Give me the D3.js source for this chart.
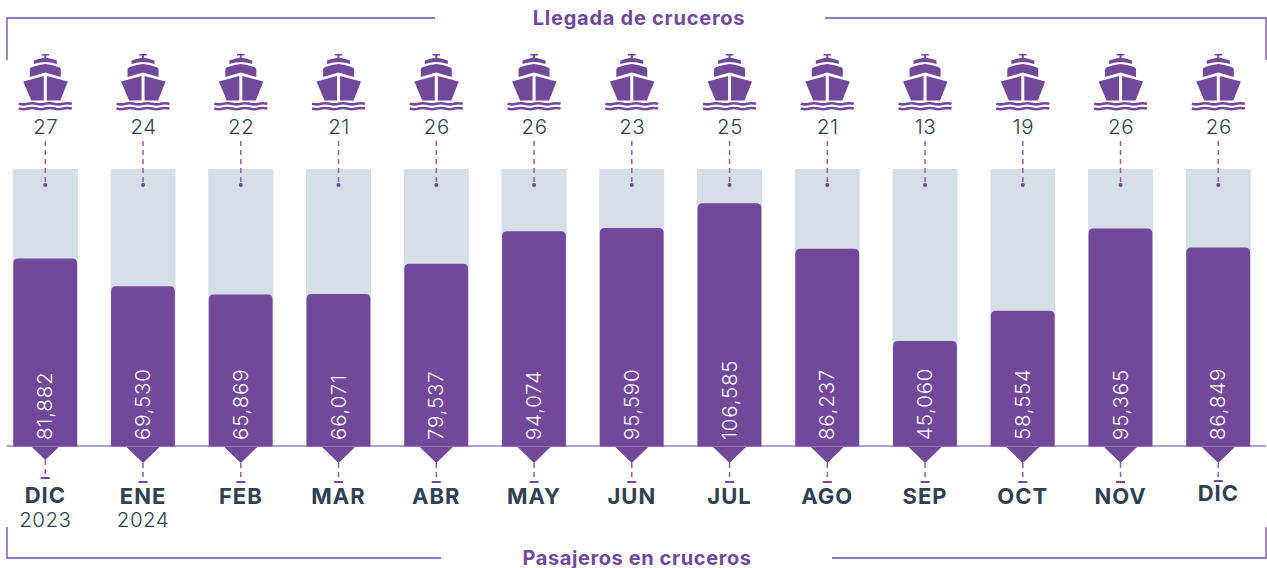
<!DOCTYPE html>
<html>
<head>
<meta charset="utf-8">
<script src="https://cdn.jsdelivr.net/npm/d3@7"></script>
<style>
	html, body { margin: 0; padding: 0; background: #fff; }
	svg { display: block; }
	text { font-family: Inter, "Open Sans", sans-serif; }
</style>
</head>
<body>
<div id="chart"></div>
<script>
var months = ["DIC", "ENE", "FEB", "MAR", "ABR", "MAY", "JUN", "JUL", "AGO", "SEP", "OCT", "NOV", "DIC"];
var years = ["2023", "2024", "", "", "", "", "", "", "", "", "", "", ""];
var cruises = [27, 24, 22, 21, 26, 26, 23, 25, 21, 13, 19, 26, 26];
var passengers = [81882, 69530, 65869, 66071, 79537, 94074, 95590, 106585, 86237, 45060, 58554, 95365, 86849];
var trackMax = 121875;

var purple = "#72489b";
var track = "#d6dee8";
var ink = "#2f4052";

var width = 1267, height = 568;
var baseY = 446, topY = 169;

var svg = d3.select("#chart").append("svg")
	.attr("width", width)
	.attr("height", height);

var xScale = d3.scaleBand()
	.domain(d3.range(months.length))
	.range([12.8, 1250.8])
	.paddingInner(0.335);
// el cero de la escala queda un poco arriba de la linea base, asi ajusta mejor a la imagen
var yScale = d3.scaleLinear().domain([0, trackMax]).range([442, topY]);

function cx(i) {
	return xScale(i) + xScale.bandwidth() / 2;
}

// marco superior e inferior
function frame(d) {
	svg.append("path")
		.attr("d", d)
		.attr("fill", "none")
		.attr("stroke", purple)
		.attr("stroke-width", 1.3);
}
frame("M7,60V18H435");
frame("M825,18H1266V60");
frame("M7,527V558H441");
frame("M832,558H1266V527");

svg.append("text")
	.attr("x", 639).attr("y", 24.5)
	.attr("text-anchor", "middle")
	.attr("font-size", 20).attr("font-weight", 700)
	.attr("letter-spacing", 0.75)
	.attr("fill", purple)
	.text("Llegada de cruceros");
svg.append("text")
	.attr("x", 637).attr("y", 564.5)
	.attr("text-anchor", "middle")
	.attr("font-size", 20).attr("font-weight", 700)
	.attr("letter-spacing", 0.6)
	.attr("fill", purple)
	.text("Pasajeros en cruceros");

// fondo gris
svg.append("g").selectAll("rect")
	.data(months)
	.enter()
	.append("rect")
	.attr("x", function(d, i) { return xScale(i); })
	.attr("y", topY)
	.attr("width", xScale.bandwidth())
	.attr("height", baseY - topY)
	.attr("fill", track);

// linea base
svg.append("line")
	.attr("x1", 7).attr("x2", 1266)
	.attr("y1", baseY).attr("y2", baseY)
	.attr("stroke", "#9a7fba")
	.attr("stroke-width", 1.5);

// barras
svg.append("g").selectAll("path")
	.data(passengers)
	.enter()
	.append("path")
	.attr("fill", purple)
	.attr("d", function(d, i) {
		var x0 = xScale(i) + 0.5, x1 = xScale(i) + xScale.bandwidth() - 0.7, y = yScale(d), r = 5;
		return "M" + x0 + "," + (baseY + 0.5) + "V" + (y + r) + "Q" + x0 + "," + y + " " + (x0 + r) + "," + y +
			"H" + (x1 - r) + "Q" + x1 + "," + y + " " + x1 + "," + (y + r) + "V" + (baseY + 0.5) + "Z";
	});

// valores
var fmt = d3.format(",");
svg.append("g").selectAll("text")
	.data(passengers)
	.enter()
	.append("text")
	.attr("transform", function(d, i) { return "translate(" + (cx(i) + 7) + ",440) rotate(-90)"; })
	.attr("font-size", 20.5)
	.attr("font-weight", 300)
	.attr("letter-spacing", 0.8)
	.attr("fill", "#fff")
	.text(function(d) { return fmt(d); });

// barco
var shipG = svg.append("g").selectAll("g")
	.data(cruises)
	.enter()
	.append("g")
	.attr("transform", function(d, i) { return "translate(" + cx(i) + ",0)"; });

shipG.append("path")
	.attr("fill", purple)
	.attr("d", "M-3.8,54H3.8V55.5H1V57.5H-1V55.5H-3.8Z" +
		"M-11.5,64V60.5Q-6,58.5 0,57.5Q6,58.5 11.5,60.5V64Q5,62 0,62Q-5,62 -11.5,64Z" +
		"M-15.5,77V69Q-15,67.5 -13,67Q-6,64.5 0,64Q6,64.5 13,67Q15,67.5 15.5,69V77L0,72.5Z" +
		"M-22,81.5L-1.5,76V100.5H-14Z" +
		"M1.5,76L22.5,81.5L15,100.5H1.5Z");

shipG.append("path")
	.attr("fill", "none")
	.attr("stroke", purple)
	.attr("stroke-width", 2.6)
	.attr("d", "M-26.5,103.8Q-22,105 -17.7,103.8T-8.8,103.8T0,103.8T8.8,103.8T17.7,103.8T26.5,103.8" +
		"M-26.5,108.6Q-22,109.8 -17.7,108.6T-8.8,108.6T0,108.6T8.8,108.6T17.7,108.6T26.5,108.6");

shipG.append("text")
	.attr("x", 0.5)
	.attr("y", 134)
	.attr("text-anchor", "middle")
	.attr("font-size", 20.5)
	.attr("font-weight", 300)
	.attr("letter-spacing", 0.6)
	.attr("fill", ink)
	.text(function(d) { return d; });

shipG.append("line")
	.attr("y1", 141).attr("y2", 185)
	.attr("stroke", "#8a63ac")
	.attr("stroke-width", 1.5)
	.attr("stroke-dasharray", "5,4");
shipG.append("circle")
	.attr("cy", 185)
	.attr("r", 2)
	.attr("fill", purple);

// meses
function tipY(i) { return i === 0 ? 460 : 463; }
function tickY(i) { return i === 0 ? 478 : (i === months.length - 1 ? 481 : 482); }
function labelY(i) { return i === 0 ? 503 : (i === months.length - 1 ? 501 : 504); }

var monthG = svg.append("g").selectAll("g")
	.data(months)
	.enter()
	.append("g")
	.attr("transform", function(d, i) { return "translate(" + cx(i) + ",0)"; });

monthG.append("path")
	.attr("fill", purple)
	.attr("d", function(d, i) {
		var w = i === 0 ? 13.5 : 16.5;
		return "M" + (-w) + ",447H" + w + "L0," + tipY(i) + "Z";
	});
monthG.append("line")
	.attr("y1", function(d, i) { return tipY(i); })
	.attr("y2", function(d, i) { return tickY(i); })
	.attr("stroke", "#8a63ac")
	.attr("stroke-width", 1.5)
	.attr("stroke-dasharray", "5,4");
monthG.append("line")
	.attr("x1", -4.5).attr("x2", 4.5)
	.attr("y1", function(d, i) { return tickY(i); })
	.attr("y2", function(d, i) { return tickY(i); })
	.attr("stroke", purple)
	.attr("stroke-width", 2);
monthG.append("text")
	.attr("y", function(d, i) { return labelY(i); })
	.attr("text-anchor", "middle")
	.attr("font-size", 22)
	.attr("font-weight", 700)
	.attr("letter-spacing", 1)
	.attr("fill", ink)
	.text(function(d) { return d; });
monthG.append("text")
	.attr("y", 527)
	.attr("text-anchor", "middle")
	.attr("font-size", 20.5)
	.attr("font-weight", 300)
	.attr("letter-spacing", 0.5)
	.attr("fill", ink)
	.text(function(d, i) { return years[i]; });
</script>
</body>
</html>
